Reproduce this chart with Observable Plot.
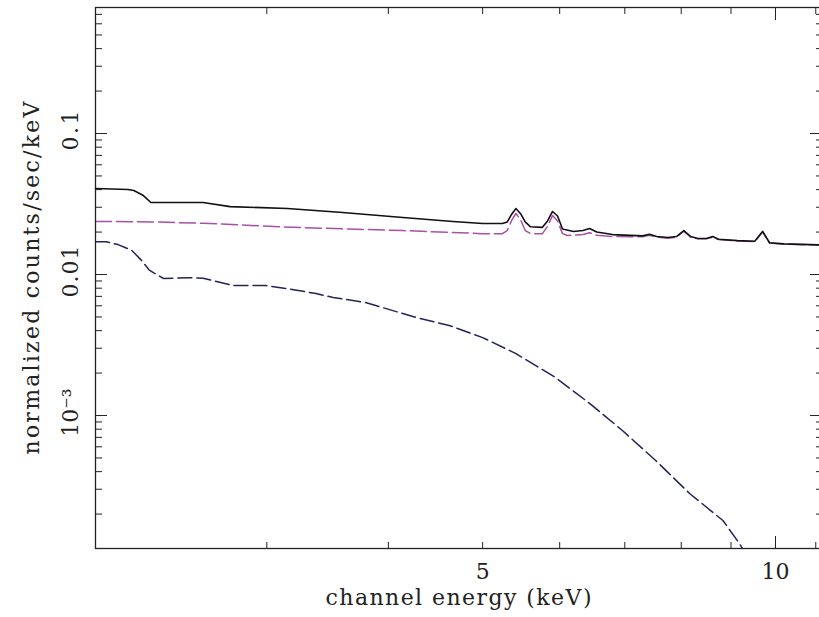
<!DOCTYPE html>
<html><head><meta charset="utf-8">
<script src="https://cdn.jsdelivr.net/npm/d3@7"></script>
<script src="https://cdn.jsdelivr.net/npm/@observablehq/plot@0.6"></script>
<style>body{margin:0;background:#fff;overflow:hidden}</style>
</head><body><div id="chart"></div>
<script>
// Total model (black solid)
const totalEnergy = [2.0, 2.16, 2.19, 2.24, 2.28, 2.58, 2.75, 3.15, 3.59, 4.14, 4.66, 5.0, 5.24, 5.30, 5.36, 5.41, 5.47, 5.53, 5.60, 5.76, 5.83, 5.90, 5.97, 6.04, 6.20, 6.34, 6.44, 6.55, 6.80, 7.30, 7.42, 7.55, 7.75, 7.91, 8.05, 8.18, 8.32, 8.49, 8.62, 8.74, 9.14, 9.52, 9.70, 9.86, 10.2, 11.15];
const totalCounts = [0.0407, 0.0401, 0.0394, 0.0363, 0.0324, 0.0324, 0.0303, 0.0294, 0.0275, 0.0254, 0.0238, 0.0230, 0.0230, 0.0236, 0.027, 0.0294, 0.027, 0.0236, 0.0218, 0.0216, 0.024, 0.0280, 0.026, 0.0210, 0.0202, 0.0205, 0.0212, 0.0200, 0.0192, 0.0188, 0.0193, 0.0186, 0.0183, 0.0186, 0.0205, 0.0186, 0.0180, 0.0180, 0.0186, 0.0178, 0.0174, 0.0172, 0.0202, 0.0168, 0.0165, 0.0162];
// Component 1 (magenta dashed)
const comp1Energy = [2.0, 2.29, 2.58, 3.19, 4.14, 5.0, 5.24, 5.30, 5.36, 5.41, 5.47, 5.53, 5.60, 5.76, 5.83, 5.90, 5.97, 6.04, 6.11, 6.34, 6.44, 6.55, 6.80, 7.30, 7.42, 7.55, 7.75, 7.91, 8.05, 8.18, 8.32, 8.49, 8.62, 8.74, 9.14, 9.52, 9.70, 9.86, 10.2, 11.15];
const comp1Counts = [0.0238, 0.0236, 0.0231, 0.0216, 0.0205, 0.0195, 0.0195, 0.0205, 0.0245, 0.0271, 0.0245, 0.0205, 0.0195, 0.0195, 0.022, 0.0262, 0.024, 0.0195, 0.0189, 0.0192, 0.0198, 0.0190, 0.0186, 0.0185, 0.0190, 0.0184, 0.0181, 0.0184, 0.0203, 0.0184, 0.0179, 0.0179, 0.0184, 0.0177, 0.0173, 0.0171, 0.0201, 0.0167, 0.0164, 0.0162];
// Component 2 (dark blue dashed)
const comp2Energy = [2.0, 2.05, 2.11, 2.18, 2.23, 2.27, 2.30, 2.35, 2.50, 2.58, 2.77, 2.99, 3.14, 3.37, 3.51, 3.79, 4.27, 4.62, 5.0, 5.41, 5.94, 6.44, 6.96, 7.53, 8.16, 8.83, 9.18, 9.35];
const comp2Counts = [0.0171, 0.0171, 0.0163, 0.0148, 0.0126, 0.0108, 0.0102, 0.00937, 0.0095, 0.0094, 0.00836, 0.00836, 0.00796, 0.00733, 0.00687, 0.00633, 0.00496, 0.00435, 0.00357, 0.00275, 0.00186, 0.00122, 0.000783, 0.000480, 0.000280, 0.000180, 0.000124, 0.000100];

const xMajorTicks = [10];
const xMinorTicks = [3, 4, 5, 6, 7, 8, 9, 11];
const xTickLabels = [5, 10];
const yMajorTicks = [0.001, 0.01, 0.1];
const yMinorTicks = [2e-4, 3e-4, 4e-4, 5e-4, 6e-4, 7e-4, 8e-4, 9e-4, 2e-3, 3e-3, 4e-3, 5e-3, 6e-3, 7e-3, 8e-3, 9e-3, 0.02, 0.03, 0.04, 0.05, 0.06, 0.07, 0.08, 0.09, 0.2, 0.3, 0.4, 0.5, 0.6, 0.7];
const yTickValues = [0.1, 0.01, 0.001];
const yTickTexts = ["0.1", "0.01", "10\u207B\u00B3"];
const xTitle = "channel energy (keV)";
const yTitle = "normalized counts/sec/keV";

const toRows = (xs, ys) => xs.map((e, i) => ({e, v: ys[i]}));
const total = toRows(totalEnergy, totalCounts);
const comp1 = toRows(comp1Energy, comp1Counts);
const comp2 = toRows(comp2Energy, comp2Counts);
const yLabels = yTickValues.map((v, i) => ({v, t: yTickTexts[i]}));
const blank = () => "";
const axisColor = "#222";

const chart = Plot.plot({
  width: 819, height: 617,
  marginLeft: 95, marginRight: -2, marginTop: 7, marginBottom: 69,
  style: {fontFamily: "'DejaVu Serif', serif", background: "#fff", color: "#222"},
  x: {type: "log", domain: [2, 11.15], axis: null},
  y: {type: "log", domain: [1.14e-4, 0.783], axis: null},
  marks: [
    Plot.line(comp2, {x: "e", y: "v", stroke: "#23235e", strokeWidth: 1.5, strokeDasharray: "14,5", clip: true}),
    Plot.line(comp1, {x: "e", y: "v", stroke: "#a850a8", strokeWidth: 1.5, strokeDasharray: "16,5"}),
    Plot.line(total, {x: "e", y: "v", stroke: "#111", strokeWidth: 1.6}),
    Plot.frame({stroke: axisColor, strokeWidth: 1.3}),
    Plot.axisX(xMinorTicks, {anchor: "bottom", tickSize: -6, tickFormat: blank, label: null, stroke: axisColor}),
    Plot.axisX(xMajorTicks, {anchor: "bottom", tickSize: -12, tickFormat: blank, label: null, stroke: axisColor}),
    Plot.axisX(xMinorTicks, {anchor: "top", tickSize: -6, tickFormat: blank, label: null, stroke: axisColor}),
    Plot.axisX(xMajorTicks, {anchor: "top", tickSize: -12, tickFormat: blank, label: null, stroke: axisColor}),
    Plot.axisY(yMinorTicks, {anchor: "left", tickSize: -7, tickFormat: blank, label: null, stroke: axisColor}),
    Plot.axisY(yMajorTicks, {anchor: "left", tickSize: -12, tickFormat: blank, label: null, stroke: axisColor}),
    Plot.axisY(yMinorTicks, {anchor: "right", tickSize: -6, tickFormat: blank, label: null, stroke: axisColor}),
    Plot.axisY(yMajorTicks, {anchor: "right", tickSize: -12, tickFormat: blank, label: null, stroke: axisColor}),
    Plot.text(xTickLabels, {x: d => d, frameAnchor: "bottom", dy: 23, lineAnchor: "middle", text: d => `${d}`, fontSize: 22, fill: "#222"}),
    Plot.text(yLabels, {y: "v", text: "t", frameAnchor: "left", dx: -25, dy: -3, rotate: -90, textAnchor: "middle", lineAnchor: "middle", fontSize: 22, fill: "#222"}),
    Plot.text([xTitle], {text: d => d, frameAnchor: "bottom", dy: 49, lineAnchor: "middle", fontSize: 22, fill: "#222"}),
    Plot.text([yTitle], {text: d => d, frameAnchor: "left", dx: -64, rotate: -90, textAnchor: "middle", lineAnchor: "middle", fontSize: 22, fill: "#222"})
  ]
});
document.getElementById("chart").append(chart);
// stretch the wide, loosely spaced lettering of the original
const spacing = new Map([[yTitle, 353], [xTitle, 266], ["0.1", 40], ["0.01", 52]]);
d3.select(chart).selectAll("text").each(function() {
  const len = spacing.get(this.textContent);
  if (len) { this.setAttribute("textLength", len); this.setAttribute("lengthAdjust", "spacing"); }
});
</script>
</body></html>
